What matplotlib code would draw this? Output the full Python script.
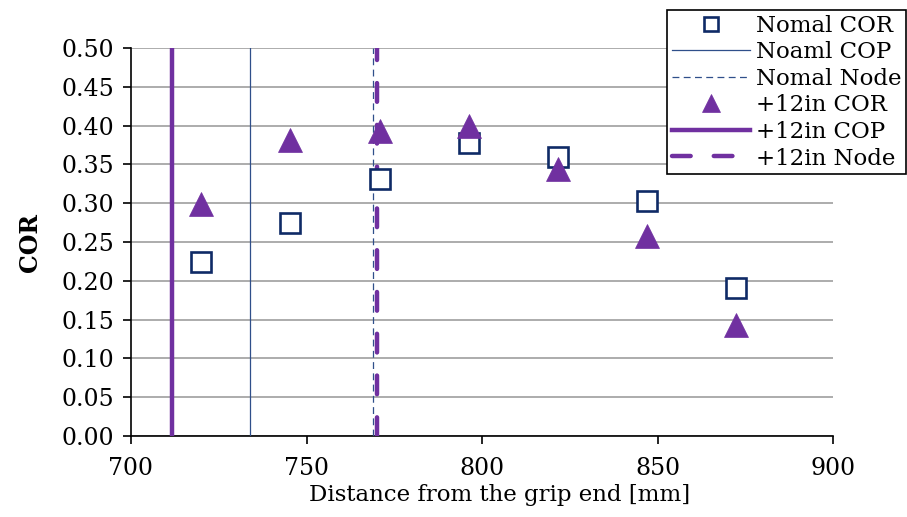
import matplotlib
matplotlib.use("Agg")
import matplotlib.pyplot as plt

# Data
x_pos = [720.0, 745.4, 770.8, 796.2, 821.6, 847.0, 872.4]
normal_cor = [0.224, 0.274, 0.331, 0.378, 0.360, 0.303, 0.191]
plus12_cor = [0.299, 0.382, 0.393, 0.399, 0.344, 0.258, 0.143]
normal_cop = 733.9
normal_node = 769.0
plus12_cop = 711.8
plus12_node = 770.2
y_ticks = [0.00, 0.05, 0.10, 0.15, 0.20, 0.25, 0.30, 0.35, 0.40, 0.45, 0.50]
x_ticks = [700, 750, 800, 850, 900]
labels = ["Nomal COR", "Noaml COP", "Nomal Node", "+12in COR", "+12in COP", "+12in Node"]

navy = "#0F2A66"
blue = "#2F4F8A"
purple = "#7030A0"

plt.rcParams['font.family'] = ['DejaVu Serif']

fig = plt.figure(figsize=(9.07, 5.17), dpi=100)
W, H = 907, 517
ax = fig.add_axes([131 / W, 1 - 436 / H, (833 - 131) / W, (436 - 48) / H])

ax.set_xlim(700, 900)
ax.set_ylim(0, 0.5)
ax.set_yticks(y_ticks)
ax.set_yticklabels([f"{v:.2f}" for v in y_ticks])
ax.set_xticks(x_ticks)
ax.set_xticklabels([str(v) for v in x_ticks])

ax.yaxis.grid(True, color="#A6A6A6", linewidth=1.3)
ax.set_axisbelow(True)
for s in ["top", "right"]:
    ax.spines[s].set_visible(False)
for s in ["left", "bottom"]:
    ax.spines[s].set_linewidth(1.2)
    ax.spines[s].set_color("black")
ax.tick_params(axis="both", direction="out", length=6, width=1.2, labelsize=17, colors="black")
ax.tick_params(axis="x", pad=9)
ax.tick_params(axis="y", pad=6)

h1, = ax.plot(x_pos, normal_cor, linestyle="none", marker="s", markersize=15,
              markerfacecolor="white", markeredgecolor=navy, markeredgewidth=1.9, zorder=5)
h2, = ax.plot([normal_cop, normal_cop], [0, 0.5], color=blue, linewidth=0.9, zorder=3)
h3, = ax.plot([normal_node, normal_node], [0, 0.5], color=blue, linewidth=0.9,
              linestyle=(0, (5.5, 3.5)), zorder=3)
h4, = ax.plot(x_pos, plus12_cor, linestyle="none", marker="^", markersize=17.5,
              markerfacecolor=purple, markeredgecolor=purple, markeredgewidth=0.5, zorder=6)
h5, = ax.plot([plus12_cop, plus12_cop], [0, 0.5], color=purple, linewidth=3.2, zorder=4)
h6, = ax.plot([plus12_node, plus12_node], [0, 0.5], color=purple, linewidth=3.2,
              linestyle=(0, (4.2, 5.2)), dash_capstyle="round", zorder=4)

ax.set_xlabel("Distance from the grip end [mm]", fontsize=16.5, labelpad=3,
              x=(500 - 131) / (833 - 131))
ax.set_ylabel("COR", fontsize=17, fontweight="bold", labelpad=14)

leg = fig.legend([h1, h2, h3, h4, h5, h6], labels, loc="upper left",
                 bbox_to_anchor=(667 / W, 1 - 10 / H), fontsize=16.5,
                 frameon=True, fancybox=False, framealpha=1, edgecolor="black",
                 handlelength=3.4, handletextpad=0.3, labelspacing=0.2,
                 borderpad=0.2, borderaxespad=0, markerscale=0.7)
leg.get_frame().set_linewidth(1.2)

fig.savefig("out.png", dpi=100)
